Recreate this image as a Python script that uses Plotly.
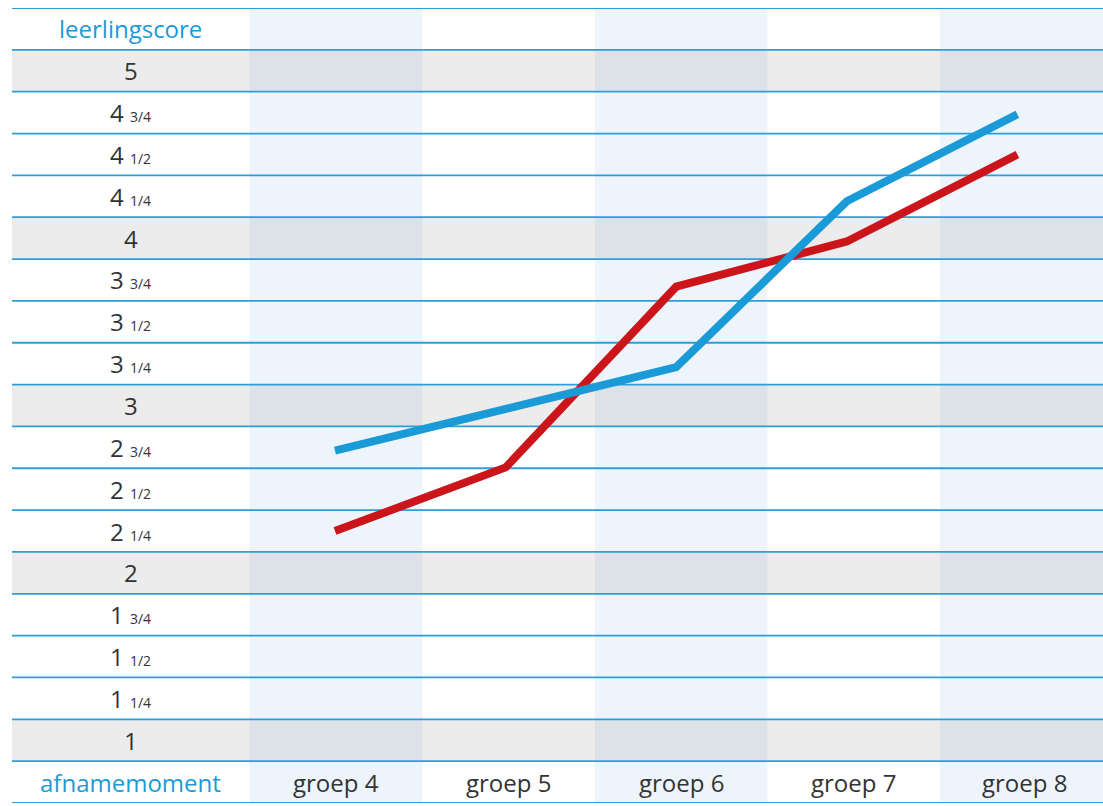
import plotly.graph_objects as go

# ---- data ----
groups = ["groep 4", "groep 5", "groep 6", "groep 7", "groep 8"]
blue_scores = [2.73, 2.98, 3.23, 4.22, 4.74]
red_scores = [2.25, 2.63, 3.71, 3.98, 4.50]
row_values = [5, 4.75, 4.5, 4.25, 4, 3.75, 3.5, 3.25, 3, 2.75, 2.5, 2.25, 2, 1.75, 1.5, 1.25, 1]
row_labels = ["5", "4 3/4", "4 1/2", "4 1/4", "4", "3 3/4", "3 1/2", "3 1/4",
              "3", "2 3/4", "2 1/2", "2 1/4", "2", "1 3/4", "1 1/2", "1 1/4", "1"]
header_label = "leerlingscore"
footer_label = "afnamemoment"

# ---- layout geometry (page pixels) ----
W, H = 1103, 806
ML, MR, MT, MB = 12, 0, 8, 3
P0, STEP = 335.0, 170.6          # page pixel of first group point, px per group


def px_to_x(px):
    return (px - P0) / STEP


X_LEFT, X_RIGHT = px_to_x(12), px_to_x(1103)
col_edges_px = [249.5, 422.3, 595.0, 767.5, 940.0, 1112.7]
col_edges = [px_to_x(p) for p in col_edges_px]
label_center = px_to_x((12 + 249.5) / 2)
Y_LO, Y_HI = 0.625, 5.375

BLUE = "#1a9bd7"
RED = "#cc151a"
GRID = "#2c9fd9"
GRAY = "#ececec"
LIGHTBLUE = "#edf4fc"
MIX = "#dde2e9"
TEXT = "#333333"
FONT = "Open Sans"

shapes = []
shaded_cols = [0, 2, 4]
for c in shaded_cols:
    shapes.append(dict(type="rect", xref="x", yref="y", x0=col_edges[c], x1=col_edges[c + 1],
                       y0=Y_LO, y1=Y_HI, fillcolor=LIGHTBLUE, line_width=0, layer="below"))
for v in [5, 4, 3, 2, 1]:
    shapes.append(dict(type="rect", xref="x", yref="y", x0=X_LEFT, x1=X_RIGHT,
                       y0=v - 0.125, y1=v + 0.125, fillcolor=GRAY, line_width=0, layer="below"))
    for c in shaded_cols:
        shapes.append(dict(type="rect", xref="x", yref="y", x0=col_edges[c], x1=col_edges[c + 1],
                           y0=v - 0.125, y1=v + 0.125, fillcolor=MIX, line_width=0, layer="below"))
for j in range(20):
    yv = Y_LO + 0.25 * j
    shapes.append(dict(type="line", xref="x", yref="y", x0=X_LEFT, x1=X_RIGHT, y0=yv, y1=yv,
                       line=dict(color=GRID, width=1.8), layer="below"))

annotations = []


def fmt(lbl):
    parts = lbl.split(" ")
    if len(parts) == 2:
        return f"{parts[0]} <span style='font-size:14px'>{parts[1]}</span>"
    return lbl


for v, lbl in zip(row_values, row_labels):
    annotations.append(dict(x=label_center, y=v, xref="x", yref="y", text=fmt(lbl),
                            showarrow=False, font=dict(family=FONT, size=24, color=TEXT),
                            xanchor="center", yanchor="middle"))
annotations.append(dict(x=label_center, y=5.25, xref="x", yref="y", text=header_label,
                        showarrow=False, font=dict(family=FONT, size=24, color=BLUE),
                        xanchor="center", yanchor="middle"))
annotations.append(dict(x=label_center, y=0.75, xref="x", yref="y", text=footer_label,
                        showarrow=False, font=dict(family=FONT, size=24, color=BLUE),
                        xanchor="center", yanchor="middle"))
for i, g in enumerate(groups):
    cx = (col_edges[i] + col_edges[i + 1]) / 2
    if i == 4:
        cx = px_to_x(1024)
    annotations.append(dict(x=cx, y=0.75, xref="x", yref="y", text=g,
                            showarrow=False, font=dict(family=FONT, size=24, color=TEXT),
                            xanchor="center", yanchor="middle"))

fig = go.Figure()
fig.add_trace(go.Scatter(x=list(range(len(groups))), y=red_scores, mode="lines",
                         line=dict(color=RED, width=8), hoverinfo="skip", showlegend=False))
fig.add_trace(go.Scatter(x=list(range(len(groups))), y=blue_scores, mode="lines",
                         line=dict(color=BLUE, width=8), hoverinfo="skip", showlegend=False))

fig.update_layout(
    width=W, height=H,
    margin=dict(l=ML, r=MR, t=MT, b=MB, pad=0),
    paper_bgcolor="white", plot_bgcolor="white",
    xaxis=dict(range=[X_LEFT, X_RIGHT], showgrid=False, zeroline=False, showticklabels=False,
               ticks="", fixedrange=True),
    yaxis=dict(range=[Y_LO, Y_HI], showgrid=False, zeroline=False, showticklabels=False,
               ticks="", fixedrange=True),
    shapes=shapes, annotations=annotations, showlegend=False,
)

fig.write_html(
    "out.html",
    config={"displayModeBar": False, "staticPlot": True},
    post_script="document.body.style.margin='0';document.body.style.overflow='hidden';",
)
